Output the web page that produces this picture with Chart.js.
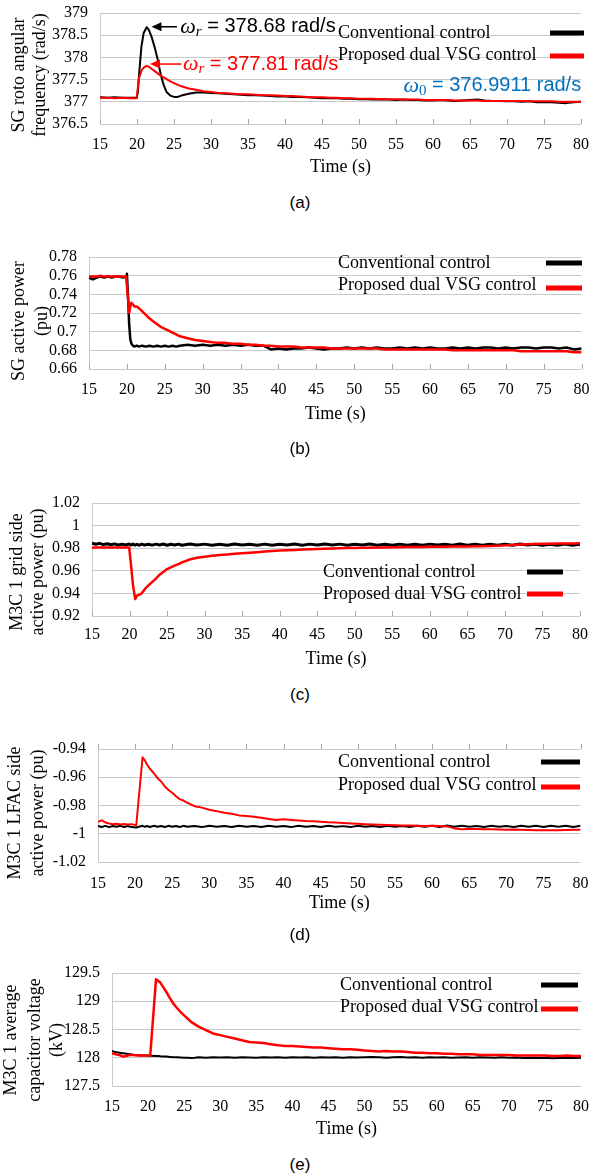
<!DOCTYPE html>
<html>
<head>
<meta charset="utf-8">
<script src="https://cdn.jsdelivr.net/npm/chart.js@4.4.1/dist/chart.umd.min.js"></script>
<style>
  body { margin: 0; background: #fff; }
  #page { position: relative; width: 593px; height: 1175px; overflow: hidden; background: #fff; }
  #page canvas { position: absolute; left: 0; }
  .cap { position: absolute; left: 0; width: 600px; text-align: center; line-height: 20px;
         font: 17px "Liberation Sans", Arial, sans-serif; color: #000; }
</style>
</head>
<body>
<div id="page">
  <canvas id="chartA"></canvas>
  <canvas id="chartB"></canvas>
  <canvas id="chartC"></canvas>
  <canvas id="chartD"></canvas>
  <canvas id="chartE"></canvas>
  <div class="cap" style="top:193px">(a)</div>
  <div class="cap" style="top:439px">(b)</div>
  <div class="cap" style="top:685px">(c)</div>
  <div class="cap" style="top:925px">(d)</div>
  <div class="cap" style="top:1155px">(e)</div>
</div>
<script>
// ── Data (time in s) ────────────────────────────────────────────────

/// Shared tail of every time axis, 1 s steps.
const TAIL_T = [
  27, 28, 29, 30, 31, 32, 33, 34, 35, 36,
  37, 38, 39, 40, 41, 42, 43, 44, 45, 46,
  47, 48, 49, 50, 51, 52, 53, 54, 55, 56,
  57, 58, 59, 60, 61, 62, 63, 64, 65, 66,
  67, 68, 69, 70, 71, 72, 73, 74, 75, 76,
  77, 78, 79, 80
];

// (a) SG rotor angular frequency (rad/s)
const timeA = [15, 16, 17, 18, 19, 19.95, 20.1, 20.3, 20.6, 20.9, 21.3, 21.6, 22, 22.4, 22.8,
  23.2, 23.6, 24, 24.5, 25, 25.5, 26].concat(TAIL_T);
const convA = [
  377.10, 377.09, 377.10, 377.09, 377.09, 377.09, 377.20, 377.65, 378.25, 378.55, 378.68,
  378.62, 378.45, 378.22, 377.95, 377.62, 377.38, 377.22, 377.14, 377.11, 377.11, 377.14,
  377.18, 377.21, 377.21, 377.20, 377.19, 377.18, 377.17, 377.16, 377.15, 377.15,
  377.14, 377.13, 377.12, 377.12, 377.11, 377.11, 377.10, 377.09, 377.08, 377.08,
  377.08, 377.07, 377.07, 377.06, 377.06, 377.05, 377.06, 377.05, 377.04, 377.05,
  377.04, 377.04, 377.03, 377.03, 377.04, 377.03, 377.02, 377.03, 377.04, 377.05,
  377.03, 377.02, 377.02, 377.01, 377.01, 377.00, 377.01, 376.99, 376.99, 376.99,
  376.98, 376.97, 376.99, 377.00
];
const propA = [
  377.09, 377.09, 377.08, 377.09, 377.08, 377.08, 377.30, 377.55, 377.70, 377.77, 377.81,
  377.79, 377.74, 377.69, 377.64, 377.59, 377.55, 377.51, 377.46, 377.42, 377.38, 377.35,
  377.30, 377.27, 377.24, 377.22, 377.20, 377.19, 377.18, 377.17, 377.17, 377.16,
  377.15, 377.15, 377.14, 377.13, 377.13, 377.12, 377.11, 377.10, 377.10, 377.09,
  377.09, 377.08, 377.08, 377.07, 377.07, 377.07, 377.06, 377.06, 377.06, 377.05,
  377.05, 377.05, 377.04, 377.04, 377.04, 377.04, 377.03, 377.03, 377.03, 377.03,
  377.02, 377.02, 377.02, 377.02, 377.02, 377.02, 377.01, 377.01, 377.01, 377.01,
  377.00, 377.00, 377.00, 377.00
];

// (b) SG active power (pu)
const timeB = [15, 15.5, 16, 16.5, 17, 17.5, 18, 18.5, 19, 19.5,
  19.9, 20, 20.15, 20.3, 20.45, 20.6, 20.8, 21, 21.3, 21.6,
  22, 22.5, 23, 23.5, 24, 24.5, 25, 25.5, 26, 26.5].concat(TAIL_T);
const convB = [
  0.758, 0.756, 0.758, 0.759, 0.758, 0.759, 0.758, 0.759, 0.759, 0.758,
  0.759, 0.762, 0.738, 0.708, 0.692, 0.687, 0.685, 0.684, 0.685, 0.684,
  0.685, 0.684, 0.685, 0.684, 0.685, 0.684, 0.685, 0.684, 0.685, 0.684,
  0.685, 0.686, 0.685, 0.686, 0.685, 0.686, 0.685, 0.686, 0.685, 0.686,
  0.685, 0.685, 0.681, 0.682, 0.681, 0.682, 0.682, 0.683, 0.682, 0.681,
  0.682, 0.682, 0.683, 0.682, 0.683, 0.682, 0.683, 0.682, 0.682, 0.683,
  0.682, 0.683, 0.682, 0.683, 0.682, 0.682, 0.683, 0.682, 0.683, 0.682,
  0.683, 0.683, 0.682, 0.683, 0.682, 0.683, 0.683, 0.682, 0.683, 0.683,
  0.682, 0.683, 0.681, 0.682
];
const propB = [
  0.759, 0.759, 0.759, 0.760, 0.759, 0.759, 0.759, 0.759, 0.759, 0.759,
  0.759, 0.759, 0.735, 0.720, 0.727, 0.731, 0.729, 0.727, 0.727, 0.725,
  0.722, 0.718, 0.714, 0.711, 0.708, 0.705, 0.703, 0.701, 0.699, 0.697,
  0.695, 0.693, 0.691, 0.690, 0.689, 0.688, 0.688, 0.687, 0.687, 0.686,
  0.686, 0.685, 0.685, 0.684, 0.684, 0.684, 0.683, 0.683, 0.683, 0.683,
  0.682, 0.682, 0.682, 0.682, 0.682, 0.682, 0.682, 0.681, 0.681, 0.681,
  0.681, 0.681, 0.681, 0.681, 0.681, 0.681, 0.680, 0.680, 0.680, 0.680,
  0.680, 0.680, 0.680, 0.680, 0.680, 0.679, 0.679, 0.679, 0.679, 0.679,
  0.679, 0.679, 0.678, 0.678
];

// (c) M3C 1 grid side active power (pu)
const timeC = [15, 15.5, 16, 16.5, 17, 17.5, 18, 18.5, 19, 19.5,
  19.95, 20.2, 20.45, 20.75, 21, 21.3, 21.6, 22, 22.5, 23,
  23.5, 24, 24.5, 25, 25.5, 26, 26.5].concat(TAIL_T);
const convC = [
  0.9845, 0.9835, 0.9843, 0.9832, 0.9840, 0.9830, 0.9838, 0.9828, 0.9836, 0.9829,
  0.9837, 0.9828, 0.9836, 0.9827, 0.9835, 0.9826, 0.9836, 0.9828, 0.9835, 0.9827,
  0.9836, 0.9828, 0.9837, 0.9826, 0.9835, 0.9828, 0.9836,
  0.9826, 0.9837, 0.9828, 0.9836, 0.9827, 0.9835, 0.9826, 0.9837, 0.9828, 0.9835,
  0.9827, 0.9836, 0.9826, 0.9835, 0.9828, 0.9837, 0.9827, 0.9836, 0.9829, 0.9838,
  0.9828, 0.9836, 0.9826, 0.9835, 0.9828, 0.9837, 0.9827, 0.9835, 0.9826, 0.9836,
  0.9827, 0.9835, 0.9826, 0.9836, 0.9828, 0.9835, 0.9826, 0.9837, 0.9827, 0.9835,
  0.9826, 0.9836, 0.9827, 0.9835, 0.9826, 0.9837, 0.9828, 0.9834, 0.9825, 0.9835,
  0.9826, 0.9836, 0.9827, 0.9834
];
const propC = [
  0.9805, 0.9806, 0.9806, 0.9807, 0.9806, 0.9806, 0.9807, 0.9806, 0.9806, 0.9807,
  0.9807, 0.9650, 0.9480, 0.9350, 0.9380, 0.9390, 0.9400, 0.9435, 0.9470, 0.9500,
  0.9530, 0.9565, 0.9590, 0.9615, 0.9630, 0.9645, 0.9660,
  0.9675, 0.9700, 0.9715, 0.9725, 0.9733, 0.9740, 0.9745, 0.9750, 0.9755, 0.9760,
  0.9765, 0.9770, 0.9775, 0.9780, 0.9782, 0.9785, 0.9788, 0.9790, 0.9793, 0.9795,
  0.9797, 0.9800, 0.9801, 0.9802, 0.9803, 0.9805, 0.9806, 0.9807, 0.9808, 0.9809,
  0.9810, 0.9810, 0.9811, 0.9812, 0.9812, 0.9813, 0.9814, 0.9815, 0.9816, 0.9817,
  0.9818, 0.9820, 0.9822, 0.9825, 0.9828, 0.9832, 0.9835, 0.9838, 0.9839, 0.9840,
  0.9841, 0.9842, 0.9842, 0.9843
];

// (d) M3C 1 LFAC side active power (pu)
const timeD = [15, 15.5, 16, 16.5, 17, 17.5, 18, 18.5, 19, 19.5,
  20.15, 21, 21.3, 21.6, 22, 22.5, 23, 23.5, 24, 24.5,
  25, 25.5, 26, 26.5].concat(TAIL_T);
const convD = [
  -0.9945, -0.9952, -0.9944, -0.9953, -0.9945, -0.9951, -0.9944, -0.9952, -0.9945, -0.9953,
  -0.9956, -0.9944, -0.9951, -0.9945, -0.9952, -0.9944, -0.9951, -0.9945, -0.9952, -0.9944,
  -0.9951, -0.9945, -0.9952, -0.9944,
  -0.9951, -0.9945, -0.9953, -0.9944, -0.9951, -0.9945, -0.9952, -0.9944, -0.9951, -0.9945,
  -0.9952, -0.9944, -0.9951, -0.9945, -0.9953, -0.9944, -0.9951, -0.9945, -0.9952, -0.9944,
  -0.9951, -0.9946, -0.9953, -0.9944, -0.9951, -0.9945, -0.9952, -0.9944, -0.9951, -0.9945,
  -0.9952, -0.9944, -0.9951, -0.9943, -0.9952, -0.9941, -0.9950, -0.9944, -0.9951, -0.9945,
  -0.9952, -0.9944, -0.9951, -0.9945, -0.9952, -0.9943, -0.9951, -0.9944, -0.9952, -0.9943,
  -0.9951, -0.9944, -0.9952, -0.9944
];
const propD = [
  -0.9915, -0.9905, -0.9920, -0.9928, -0.9932, -0.9930, -0.9934, -0.9931, -0.9934, -0.9932,
  -0.9940, -0.9459, -0.9480, -0.9510, -0.9540, -0.9570, -0.9605, -0.9630, -0.9665, -0.9690,
  -0.9710, -0.9735, -0.9755, -0.9765,
  -0.9780, -0.9805, -0.9815, -0.9830, -0.9840, -0.9852, -0.9858, -0.9870, -0.9874, -0.9880,
  -0.9886, -0.9895, -0.9903, -0.9898, -0.9902, -0.9906, -0.9910, -0.9912, -0.9915, -0.9919,
  -0.9921, -0.9924, -0.9927, -0.9930, -0.9932, -0.9935, -0.9937, -0.9938, -0.9940, -0.9941,
  -0.9942, -0.9943, -0.9945, -0.9944, -0.9946, -0.9948, -0.9962, -0.9968, -0.9966, -0.9967,
  -0.9969, -0.9968, -0.9970, -0.9971, -0.9970, -0.9972, -0.9974, -0.9976, -0.9975, -0.9976,
  -0.9975, -0.9974, -0.9972, -0.9971
];

// (e) M3C 1 average capacitor voltage (kV)
const timeE = [15, 15.5, 16, 16.5, 17, 17.5, 18, 18.5, 19, 19.5,
  20.3, 21.1, 21.4, 21.7, 22.1, 22.6, 23, 23.5, 24, 24.5,
  25, 25.5, 26, 26.5].concat(TAIL_T);
const convE = [
  128.12, 128.10, 128.09, 128.08, 128.07, 128.06, 128.05, 128.05, 128.04, 128.04,
  128.035, 128.03, 128.03, 128.025, 128.02, 128.02, 128.015, 128.01, 128.01, 128.005,
  128.0, 128.0, 127.995, 128.0,
  128.01, 128.0, 128.01, 128.005, 128.01, 128.0, 128.01, 128.005, 128.0, 128.01,
  128.005, 128.01, 128.0, 128.01, 128.005, 128.01, 128.0, 128.01, 128.005, 128.01,
  128.0, 128.01, 128.005, 128.01, 128.015, 128.01, 128.0, 128.01, 128.015, 128.005,
  128.01, 128.0, 128.01, 128.005, 128.01, 128.0, 128.005, 128.01, 128.0, 128.01,
  128.005, 128.0, 128.01, 128.0, 128.005, 127.995, 128.0, 127.995, 128.0, 127.99,
  127.995, 128.0, 127.995, 128.0
];
const propE = [
  128.08, 128.06, 128.05, 128.02, 128.03, 128.05, 128.05, 128.04, 128.04, 128.04,
  128.04, 129.39, 129.36, 129.33, 129.25, 129.15, 129.06, 128.96, 128.88, 128.81,
  128.75, 128.69, 128.63, 128.59,
  128.55, 128.49, 128.43, 128.40, 128.37, 128.34, 128.31, 128.28, 128.27, 128.26,
  128.24, 128.22, 128.21, 128.21, 128.20, 128.19, 128.18, 128.18, 128.17, 128.16,
  128.15, 128.15, 128.14, 128.13, 128.12, 128.11, 128.12, 128.11, 128.11, 128.10,
  128.09, 128.09, 128.08, 128.08, 128.07, 128.07, 128.06, 128.06, 128.06, 128.05,
  128.05, 128.05, 128.05, 128.05, 128.04, 128.04, 128.04, 128.04, 128.04, 128.03,
  128.03, 128.04, 128.03, 128.03
];

/// Text call-outs of panel (a), placed in data units.
const NOTES_A = [
  { color: "#000000", sub: "r", text: " = 378.68 rad/s", at: [25.85, 378.69], tip: [21.95, 378.69], tail: [25.4, 378.69] },
  { color: "#ff0000", sub: "r", text: " = 377.81 rad/s", at: [26.2, 377.85], tip: [21.75, 377.85], tail: [26.0, 377.85] },
  { color: "#0070c0", sub: "0", text: " = 376.9911 rad/s", at: [56.0, 377.36] }
];

// ── Styling ─────────────────────────────────────────────────────────

const SERIF = '"Liberation Serif", "Times New Roman", serif';
const SANS = '"Liberation Sans", Arial, sans-serif';
const GRID_COLOR = "#c9c9c9";
const TICK_SIZE = 16;
const XTITLE_SIZE = 18;
const LEGEND_FONT = "18px " + SERIF;
const YTITLE_FONT = "18px " + SERIF;

/// Layout of each panel in page pixels.
const PANELS = [
  { canvas: "chartA", top: 0, height: 190,
    area: { left: 100, right: 581, top: 13, bottom: 124 }, tickY: 143, titleY: 165,
    y: { min: 376.5, max: 379, step: 0.5 },
    yTitle: ["SG roto angular", "frequency (rad/s)"], yTitleX: [19, 40], yTitleY: 75,
    legend: { textX: 338, rows: [33, 55], swatch: [550, 584], swatchY: [33, 56] },
    tickMarks: "min", lw: [2, 2],
    time: timeA, conv: convA, prop: propA, notes: NOTES_A },
  { canvas: "chartB", top: 240, height: 200,
    area: { left: 89, right: 583, top: 257, bottom: 369 }, tickY: 388, titleY: 412,
    y: { min: 0.66, max: 0.78, step: 0.02 },
    yTitle: ["SG active power", "(pu)"], yTitleX: [19, 42], yTitleY: 321,
    legend: { textX: 338, rows: [263, 285], swatch: [546, 582], swatchY: [263, 288] },
    tickMarks: "min", lw: [2.5, 2.5],
    time: timeB, conv: convB, prop: propB },
  { canvas: "chartC", top: 485, height: 200,
    area: { left: 92, right: 580, top: 503, bottom: 616 }, tickY: 633, titleY: 657,
    y: { min: 0.92, max: 1.02, step: 0.02 },
    yTitle: ["M3C 1 grid side", "active power (pu)"], yTitleX: [17, 38], yTitleY: 572,
    legend: { textX: 323, rows: [572, 594], swatch: [527, 563], swatchY: [572, 594] },
    tickMarks: "min", lw: [3, 2.5],
    time: timeC, conv: convC, prop: propC },
  { canvas: "chartD", top: 730, height: 200,
    area: { left: 98, right: 581, top: 749, bottom: 862 }, tickY: 882, titleY: 901,
    y: { min: -1.02, max: -0.94, step: 0.02 },
    yTitle: ["M3C 1 LFAC side", "active power (pu)"], yTitleX: [15, 38], yTitleY: 813,
    legend: { textX: 338, rows: [762, 785], swatch: [541, 580], swatchY: [762, 787] },
    tickMarks: "max", lw: [2, 2],
    time: timeD, conv: convD, prop: propD },
  { canvas: "chartE", top: 955, height: 200,
    area: { left: 112, right: 581, top: 973, bottom: 1086 }, tickY: 1105, titleY: 1127,
    y: { min: 127.5, max: 129.5, step: 0.5 },
    yTitle: ["M3C 1 average", "capacitor voltage", "(kV)"], yTitleX: [11, 35, 57], yTitleY: 1040,
    legend: { textX: 340, rows: [985, 1007], swatch: [541, 578], swatchY: [985, 1009] },
    tickMarks: null, lw: [2, 2.5],
    time: timeE, conv: convE, prop: propE }
];
const PANEL_BY_ID = {};
PANELS.forEach(p => { PANEL_BY_ID[p.canvas] = p; });

/// Helper – zip a time array and a value array into {x, y} points.
function pts(t, v) {
  return t.map((x, i) => ({ x, y: v[i] }));
}

/// Tick label without trailing zeros ("0.7", "1", "129").
function trimNum(v) {
  return String(Number(Number(v).toFixed(4)));
}

// ── Decoration plugin: tick marks, legend, y titles, call-outs ─────

function drawArrow(ctx, x0, y0, x1, y1, color) {
  const a = Math.atan2(y1 - y0, x1 - x0);
  ctx.strokeStyle = color; ctx.fillStyle = color; ctx.lineWidth = 1.5;
  ctx.beginPath(); ctx.moveTo(x0, y0); ctx.lineTo(x1 - 7 * Math.cos(a), y1 - 7 * Math.sin(a)); ctx.stroke();
  ctx.beginPath();
  ctx.moveTo(x1, y1);
  ctx.lineTo(x1 - 10 * Math.cos(a) + 4.5 * Math.sin(a), y1 - 10 * Math.sin(a) - 4.5 * Math.cos(a));
  ctx.lineTo(x1 - 10 * Math.cos(a) - 4.5 * Math.sin(a), y1 - 10 * Math.sin(a) + 4.5 * Math.cos(a));
  ctx.closePath(); ctx.fill();
}

const decor = {
  id: "decor",
  afterDatasetsDraw(chart) {
    const p = PANEL_BY_ID[chart.canvas.id];
    if (!p) return;
    const ctx = chart.ctx;
    const xs = chart.scales.x, ys = chart.scales.y;
    ctx.save();

    // Small vertical tick marks on the horizontal axis line
    if (p.tickMarks) {
      const y0 = ys.getPixelForValue(p.tickMarks === "min" ? ys.min : ys.max);
      ctx.strokeStyle = "#a6a6a6"; ctx.lineWidth = 1;
      xs.ticks.forEach(tk => {
        const x = Math.round(xs.getPixelForValue(tk.value)) + 0.5;
        ctx.beginPath(); ctx.moveTo(x, y0); ctx.lineTo(x, y0 - 5); ctx.stroke();
      });
    }

    // Legend: text on the left, thick swatch on the right
    ctx.font = LEGEND_FONT; ctx.textBaseline = "middle"; ctx.textAlign = "left";
    chart.data.datasets.forEach((ds, i) => {
      ctx.fillStyle = "#000";
      ctx.fillText(ds.label, p.legend.textX, p.legend.rows[i] - p.top);
      ctx.strokeStyle = ds.borderColor; ctx.lineWidth = 5; ctx.lineCap = "butt";
      ctx.beginPath();
      ctx.moveTo(p.legend.swatch[0], p.legend.swatchY[i] - p.top);
      ctx.lineTo(p.legend.swatch[1], p.legend.swatchY[i] - p.top);
      ctx.stroke();
    });

    // Rotated y-axis title, one line per entry
    ctx.font = YTITLE_FONT; ctx.fillStyle = "#000"; ctx.textAlign = "center";
    p.yTitle.forEach((line, i) => {
      ctx.save();
      ctx.translate(p.yTitleX[i], p.yTitleY - p.top);
      ctx.rotate(-Math.PI / 2);
      ctx.fillText(line, 0, 0);
      ctx.restore();
    });

    // Call-outs (panel a)
    (p.notes || []).forEach(n => {
      if (n.tip) {
        drawArrow(ctx, xs.getPixelForValue(n.tail[0]), ys.getPixelForValue(n.tail[1]),
          xs.getPixelForValue(n.tip[0]), ys.getPixelForValue(n.tip[1]), n.color);
      }
      let x = xs.getPixelForValue(n.at[0]);
      const y = ys.getPixelForValue(n.at[1]);
      ctx.fillStyle = n.color; ctx.textAlign = "left"; ctx.textBaseline = "middle";
      ctx.font = "italic 22px " + SERIF;
      ctx.fillText("\u03C9", x, y); x += ctx.measureText("\u03C9").width;
      ctx.font = (n.sub === "r" ? "italic " : "") + "15px " + SERIF;
      ctx.fillText(n.sub, x, y + 5); x += ctx.measureText(n.sub).width;
      ctx.font = "20px " + SANS;
      ctx.fillText(n.text, x, y);
    });

    ctx.restore();
  }
};

// ── Chart construction ──────────────────────────────────────────────

function makeChart(p) {
  const cv = document.getElementById(p.canvas);
  cv.width = 593; cv.height = p.height;
  cv.style.top = p.top + "px";
  const bottomLocal = p.area.bottom - p.top;
  const xH = p.titleY - p.area.bottom + XTITLE_SIZE * 1.2 / 2 + 2;
  return new Chart(cv, {
    type: "line",
    data: {
      datasets: [
        { label: "Conventional control", data: pts(p.time, p.conv), borderColor: "#000000", borderWidth: p.lw[0], order: 1 },
        { label: "Proposed dual VSG control", data: pts(p.time, p.prop), borderColor: "#ff0000", borderWidth: p.lw[1], order: 0 }
      ]
    },
    options: {
      responsive: false,
      animation: false,
      devicePixelRatio: 1,
      elements: { point: { radius: 0 }, line: { tension: 0, borderJoinStyle: "round", fill: false } },
      layout: { padding: { left: 0, right: 593 - p.area.right, top: p.area.top - p.top, bottom: p.height - bottomLocal - xH } },
      plugins: { legend: { display: false }, tooltip: { enabled: false } },
      scales: {
        x: {
          type: "linear", min: 15, max: 80,
          ticks: { stepSize: 5, autoSkip: false, maxRotation: 0, color: "#000",
                   font: { family: SERIF, size: TICK_SIZE },
                   padding: p.tickY - p.area.bottom - TICK_SIZE * 1.2 / 2 - 6 },
          grid: { display: false },
          border: { display: false },
          title: { display: true, text: "Time (s)", color: "#000", padding: 0,
                   font: { family: SERIF, size: XTITLE_SIZE } },
          afterFit(s) { s.height = xH; }
        },
        y: {
          type: "linear", min: p.y.min, max: p.y.max,
          ticks: { stepSize: p.y.step, autoSkip: false, color: "#000", padding: 0,
                   font: { family: SERIF, size: TICK_SIZE },
                   callback: v => trimNum(v) },
          grid: { color: GRID_COLOR, lineWidth: 1, drawTicks: true, tickLength: 12, tickColor: "rgba(0,0,0,0)" },
          border: { display: true, color: GRID_COLOR, width: 1 },
          afterFit(s) { s.width = p.area.left; }
        }
      }
    },
    plugins: [decor]
  });
}

PANELS.forEach(makeChart);
</script>
</body>
</html>
